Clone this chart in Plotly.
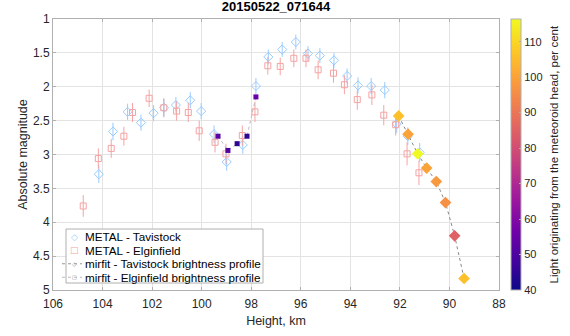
import plotly.graph_objects as go

# METAL - Tavistock
tav_h = [104.15, 103.58, 102.99, 102.45, 101.94, 101.52, 101.04, 100.46, 100.02, 99.50,
         98.99, 98.34, 97.81, 97.31, 96.75, 96.20, 95.71, 95.23, 94.66, 94.13,
         93.69, 93.16, 92.61, 92.13, 91.68, 91.20]
tav_m = [3.29, 2.66, 2.37, 2.53, 2.39, 2.31, 2.27, 2.20, 2.36, 2.70,
         3.11, 2.86, 1.99, 1.56, 1.45, 1.34, 1.51, 1.54, 1.61, 1.84,
         1.98, 1.99, 2.05, 2.55, 2.73, 2.97]
tav_e = [0.13, 0.13, 0.12, 0.12, 0.12, 0.13, 0.12, 0.12, 0.12, 0.13,
         0.13, 0.13, 0.12, 0.11, 0.11, 0.11, 0.11, 0.11, 0.11, 0.11,
         0.12, 0.12, 0.12, 0.13, 0.13, 0.14]

# METAL - Elginfield
elg_h = [104.78, 104.17, 103.65, 103.14, 102.79, 102.12, 101.53, 101.01, 100.54, 100.10,
         99.46, 99.02, 98.36, 97.85, 97.33, 96.83, 96.28, 95.79, 95.30, 94.68,
         94.24, 93.72, 93.13, 92.65, 92.17, 91.71, 91.23]
elg_m = [3.76, 3.06, 2.91, 2.73, 2.38, 2.17, 2.31, 2.36, 2.38, 2.65,
         2.82, 2.99, 2.72, 2.37, 1.69, 1.70, 1.58, 1.58, 1.75, 1.80,
         1.97, 2.19, 2.12, 2.42, 2.56, 2.99, 3.27]
elg_e = [0.16, 0.15, 0.14, 0.14, 0.14, 0.13, 0.14, 0.14, 0.14, 0.15,
         0.15, 0.15, 0.15, 0.15, 0.13, 0.13, 0.13, 0.13, 0.14, 0.14,
         0.14, 0.15, 0.15, 0.15, 0.16, 0.17, 0.18]

# mirfit - Tavistock brightness profile
tp_h = [92.05, 91.67, 91.28, 90.92, 90.53, 90.16, 89.79, 89.41]
tp_m = [2.43, 2.70, 2.99, 3.20, 3.40, 3.71, 4.20, 4.83]
tp_c = [106, 100, 116.4, 100, 98, 96, 85, 106]

# mirfit - Elginfield brightness profile
ep_h = [99.34, 98.94, 98.57, 98.17, 97.81]
ep_m = [2.73, 2.94, 2.84, 2.73, 2.15]
ep_c = [52, 50, 45, 45, 55]

legend_labels = ["METAL - Tavistock", "METAL - Elginfield",
                 "mirfit - Tavistock brightness profile",
                 "mirfit - Elginfield brightness profile"]
cbar_title = "Light originating from the meteoroid head, per cent"

FONT = "Liberation Sans, Arial, Helvetica, sans-serif"
BLUE = "#99ccff"
PINK = "#f5a3a3"

# plot-area geometry in pixels (for legend/annotation placement)
L, R, T, B = 53, 499, 19, 290
def px(x):
    return (x - L) / (R - L)
def py(y):
    return (B - y) / (B - T)

fig = go.Figure()

fig.add_trace(go.Scatter(
    x=tav_h, y=tav_m, mode="markers", showlegend=False,
    marker=dict(symbol="diamond-open", size=7, color=BLUE, line=dict(width=1)),
    error_y=dict(type="data", array=tav_e, color=BLUE, thickness=1, width=0)))
fig.add_trace(go.Scatter(
    x=elg_h, y=elg_m, mode="markers", showlegend=False,
    marker=dict(symbol="square-open", size=6, color=PINK, line=dict(width=1)),
    error_y=dict(type="data", array=elg_e, color=PINK, thickness=1, width=0)))
fig.add_trace(go.Scatter(
    x=ep_h, y=ep_m, mode="lines+markers", showlegend=False,
    line=dict(color="#bbbbbb", width=1, dash="dot"),
    marker=dict(symbol="square", size=5, color=ep_c, coloraxis="coloraxis")))
fig.add_trace(go.Scatter(
    x=tp_h, y=tp_m, mode="lines+markers", showlegend=False,
    line=dict(color="#888888", width=1, dash="dot"),
    marker=dict(symbol="diamond", size=9, color=tp_c, coloraxis="coloraxis")))

shapes = []
annotations = []
# manual legend box
lx0, lx1, ly0, ly1 = 66, 263, 229, 283
shapes.append(dict(type="rect", xref="paper", yref="paper",
                   x0=px(lx0), x1=px(lx1), y0=py(ly1), y1=py(ly0),
                   fillcolor="white", line=dict(color="#b0b0b0", width=1), layer="above"))
row_h = (ly1 - ly0) / 4
glyphs = [("◇", BLUE, 9), ("□", PINK, 9), ("◇", "#888888", 6), ("□", "#888888", 5)]
for i, lab in enumerate(legend_labels):
    yc = ly0 + row_h * (i + 0.5) + 1
    annotations.append(dict(text=lab, xref="paper", yref="paper", x=px(83), y=py(yc),
                            xanchor="left", yanchor="middle", showarrow=False,
                            font=dict(family=FONT, size=11.7, color="black")))
    g, col, sz = glyphs[i]
    if i >= 2:
        shapes.append(dict(type="line", xref="paper", yref="paper",
                           x0=px(62), x1=px(82), y0=py(yc), y1=py(yc),
                           line=dict(color="#999999" if i == 2 else "#bbbbbb", width=1, dash="dot"),
                           layer="above"))
    annotations.append(dict(text=g, xref="paper", yref="paper", x=px(74), y=py(yc),
                            xanchor="center", yanchor="middle", showarrow=False,
                            font=dict(family="DejaVu Sans", size=sz, color=col)))

# colorbar title
annotations.append(dict(text=cbar_title, xref="paper", yref="paper", x=px(553), y=0.5,
                        xanchor="center", yanchor="middle", textangle=-90, showarrow=False,
                        font=dict(family=FONT, size=11.5, color="#262626")))

axis_common = dict(showline=True, linecolor="#b0b0b0", linewidth=1, mirror="ticks",
                   showgrid=True, gridcolor="#e3e3e3", gridwidth=1, zeroline=False,
                   ticks="inside", ticklen=3, tickcolor="#b0b0b0",
                   tickfont=dict(family=FONT, size=12, color="#262626"))

fig.update_layout(
    width=570, height=336,
    margin=dict(l=L, r=570 - R, t=T, b=336 - B),
    paper_bgcolor="white", plot_bgcolor="white",
    font=dict(family=FONT, size=12, color="#262626"),
    showlegend=False,
    title=dict(text="<b>20150522_071644</b>", x=px(276), xref="paper", xanchor="center",
               y=1, yref="container", yanchor="top", pad=dict(t=2),
               font=dict(family=FONT, size=13, color="black")),
    xaxis=dict(range=[106, 88], dtick=2, tick0=88, ticklabelstandoff=3,
               title=dict(text="Height, km", standoff=5, font=dict(family=FONT, size=12.5)),
               **axis_common),
    yaxis=dict(range=[5, 1], dtick=0.5, tick0=1,
               title=dict(text="Absolute magnitude", standoff=2, font=dict(family=FONT, size=12.5)),
               **axis_common),
    coloraxis=dict(colorscale="Plasma", cmin=40, cmax=116.4,
                   colorbar=dict(x=px(510.5), xanchor="left", xref="paper",
                                 y=0.5, yanchor="middle", len=1, lenmode="fraction",
                                 thickness=10, thicknessmode="pixels",
                                 outlinewidth=1, outlinecolor="#b0b0b0",
                                 tickvals=[40, 50, 60, 70, 80, 90, 100, 110],
                                 ticks="inside", ticklen=2, tickcolor="#b0b0b0",
                                 tickfont=dict(family=FONT, size=11, color="#262626"),
                                 ypad=0, xpad=0)),
    shapes=shapes,
    annotations=annotations,
)

fig.write_html("out.html")
